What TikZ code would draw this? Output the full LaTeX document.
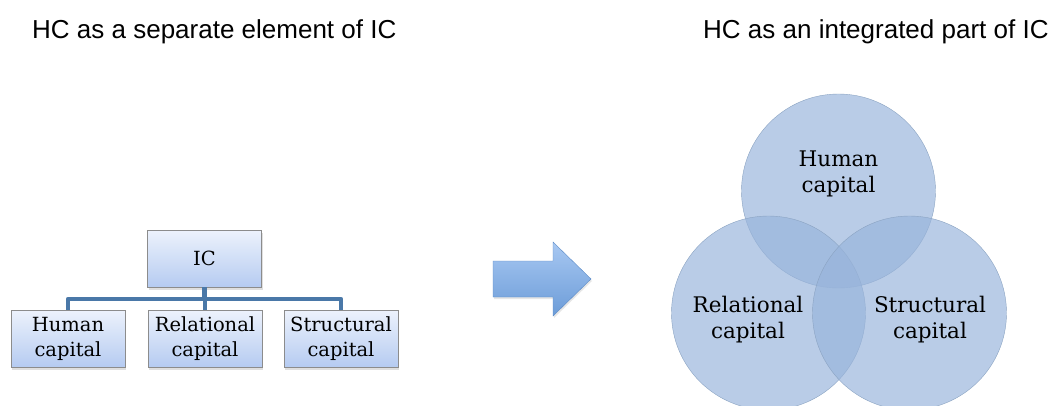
\documentclass[tikz,border=0pt]{standalone}
\usepackage{fontspec}
\usepackage{xcolor}
\usepackage{tikz}
\usetikzlibrary{shadows,arrows.meta}
\newfontfamily\headfont{Liberation Sans}
\newfontfamily\labelfont{DejaVu Serif}
\definecolor{boxborder}{HTML}{8C8C8C}
\definecolor{boxtop}{HTML}{EDF2FC}
\definecolor{boxbottom}{HTML}{B5CBF1}
\definecolor{linkblue}{HTML}{4A78A8}
\definecolor{arrowtop}{HTML}{A8C8F2}
\definecolor{arrowbottom}{HTML}{6C9CD8}
\definecolor{arrowborder}{HTML}{5B8AC6}
\definecolor{circfill}{HTML}{98B4DB}
\definecolor{circborder}{HTML}{8AA3C2}

\begin{document}
\begin{tikzpicture}[x=1pt, y=-1pt,
  title/.style={font=\headfont\fontsize{26}{30}\selectfont, anchor=base west, inner sep=0pt},
  box/.style={draw=boxborder, top color=boxtop, bottom color=boxbottom, minimum width=114pt, minimum height=57pt,
    inner sep=0pt, align=center, font=\labelfont\fontsize{19.5}{25}\selectfont,
    drop shadow={shadow xshift=1pt, shadow yshift=-3pt, opacity=0.25}},
  link/.style={draw=linkblue, line width=4.5pt, line join=round},
  bubble/.style={circle, draw=circborder, fill=circfill, fill opacity=0.68, minimum size=194pt, inner sep=0pt},
  bubbletext/.style={align=center, inner sep=0pt, font=\labelfont\fontsize{21.5}{26}\selectfont},
]
\useasboundingbox (0,0) rectangle (1058,405);

% Titles
\node[title] (lefttitle) at (32,38) {HC as a separate element of IC};
\node[title] (righttitle) at (703,38) {HC as an integrated part of IC};

% Hierarchy
\node[box] (ic) at (204.5,258.5) {IC};
\node[box] (human) at (68,338.5) {Human\\capital};
\node[box] (relational) at (205,338.5) {Relational\\capital};
\node[box] (structural) at (341,338.5) {Structural\\capital};

\coordinate (bar) at (204.5,299);
\draw[link] (ic.south) -- (bar);
\foreach \n in {human,relational,structural} {
  \draw[link] (\n.north) |- (bar);
}

% Arrow
\draw[arrowborder, top color=arrowtop, bottom color=arrowbottom,
  drop shadow={shadow xshift=1pt, shadow yshift=-2pt, opacity=0.2}]
  (493,261) -- (553,261) -- (553,242) -- (591,279) -- (553,316) -- (553,297) -- (493,297) -- cycle;

% Circles
\node[bubble] (hccirc) at (838.5,191) {};
\node[bubble] (rccirc) at (768.5,313) {};
\node[bubble] (sccirc) at (909.5,313) {};

\node[bubbletext] (hctext) at (838.5,174) {Human\\capital};
\node[bubbletext] (rctext) at (748,320) {Relational\\capital};
\node[bubbletext] (sctext) at (930,320) {Structural\\capital};

\end{tikzpicture}
\end{document}
